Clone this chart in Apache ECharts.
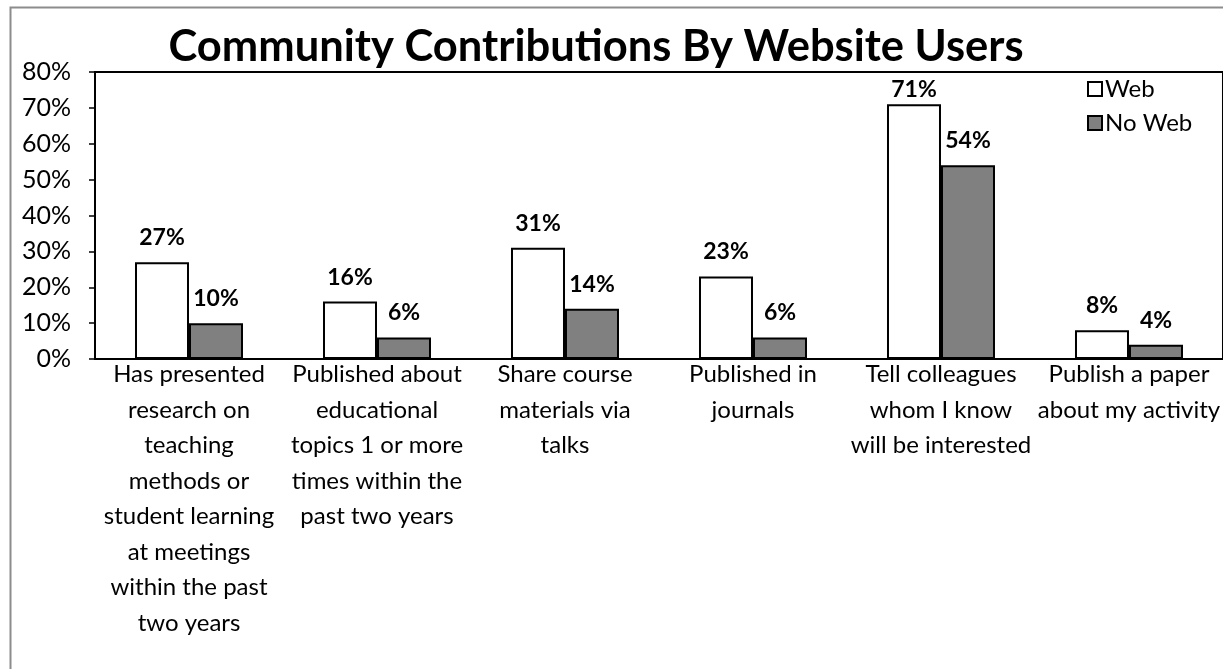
<!DOCTYPE html>
<html>
<head>
<meta charset="utf-8">
<script src="https://cdn.jsdelivr.net/npm/echarts@6/dist/echarts.min.js"></script>
<style>
html,body{margin:0;padding:0;background:#fff;}
#chart{width:1223px;height:669px;}
</style>
</head>
<body>
<div id="chart"></div>
<script>
const categories = [
  "Has presented\nresearch on\nteaching\nmethods or\nstudent learning\nat meetings\nwithin the past\ntwo years",
  "Published about\neducational\ntopics 1 or more\ntimes within the\npast two years",
  "Share course\nmaterials via\ntalks",
  "Published in\njournals",
  "Tell colleagues\nwhom I know\nwill be interested",
  "Publish a paper\nabout my activity"
];
const webValues = [27, 16, 31, 23, 71, 8];
const noWebValues = [10, 6, 14, 6, 54, 4];
const seriesNames = ["Web", "No Web"];
const yTicks = [0, 10, 20, 30, 40, 50, 60, 70, 80];

const FONT = 'Lato, "Open Sans", sans-serif';
const chart = echarts.init(document.getElementById('chart'), null, {renderer: 'canvas'});
const labelStyle = {
  show: true, position: 'top', distance: 13,
  formatter: p => p.value + '%',
  fontFamily: FONT, fontWeight: 'bold', fontSize: 23, color: '#000'
};
// labels near the top of the plot are squeezed down to stay inside it
const withLabelFit = arr => arr.map(v => v > 68 ? {value: v, label: {distance: 3}} : v);
chart.setOption({
  animation: false,
  backgroundColor: '#fff',
  graphic: [{
    type: 'rect', left: 8, top: 5, z: -1,
    shape: {x: 0, y: 0, width: 1400, height: 800},
    style: {fill: 'none', stroke: '#8c8c8c', lineWidth: 2}
  }],
  title: {
    text: 'Community Contributions By Website Users',
    left: 591, top: 20, textAlign: 'center',
    textStyle: {fontFamily: FONT, fontWeight: 'bold', fontSize: 43.5, color: '#000'}
  },
  legend: {
    orient: 'vertical', left: 1082, top: 72,
    itemWidth: 14, itemHeight: 14, itemGap: 10, icon: 'rect',
    textStyle: {fontFamily: FONT, fontSize: 24, color: '#000', padding: [0, 0, 0, -2]},
    data: seriesNames
  },
  grid: {
    left: 95, top: 72, bottom: 310, right: -2,
    show: true, borderColor: '#000', borderWidth: 2, backgroundColor: 'transparent'
  },
  xAxis: {
    type: 'category', data: categories,
    axisLine: {lineStyle: {color: '#000', width: 2}},
    axisTick: {show: false},
    axisLabel: {interval: 0, margin: -2, fontFamily: FONT, fontSize: 24, lineHeight: 35.5, color: '#000', align: 'center', verticalAlign: 'top'}
  },
  yAxis: {
    type: 'value', min: 0, max: 80, interval: 10,
    axisLine: {show: true, lineStyle: {color: '#000', width: 2}},
    axisTick: {show: true, inside: false, length: 6, lineStyle: {color: '#000', width: 1.5}},
    splitLine: {show: false},
    axisLabel: {margin: 24, fontFamily: FONT, fontSize: 25, color: '#000',
      formatter: v => yTicks.includes(v) ? v + '%' : ''}
  },
  series: [
    {
      name: seriesNames[0], type: 'bar', data: withLabelFit(webValues),
      barWidth: 54, barGap: '0%',
      itemStyle: {color: '#fff', borderColor: '#000', borderWidth: 2},
      label: labelStyle
    },
    {
      name: seriesNames[1], type: 'bar', data: withLabelFit(noWebValues),
      barWidth: 54,
      itemStyle: {color: '#808080', borderColor: '#000', borderWidth: 2},
      label: labelStyle
    }
  ]
});
</script>
</body>
</html>
